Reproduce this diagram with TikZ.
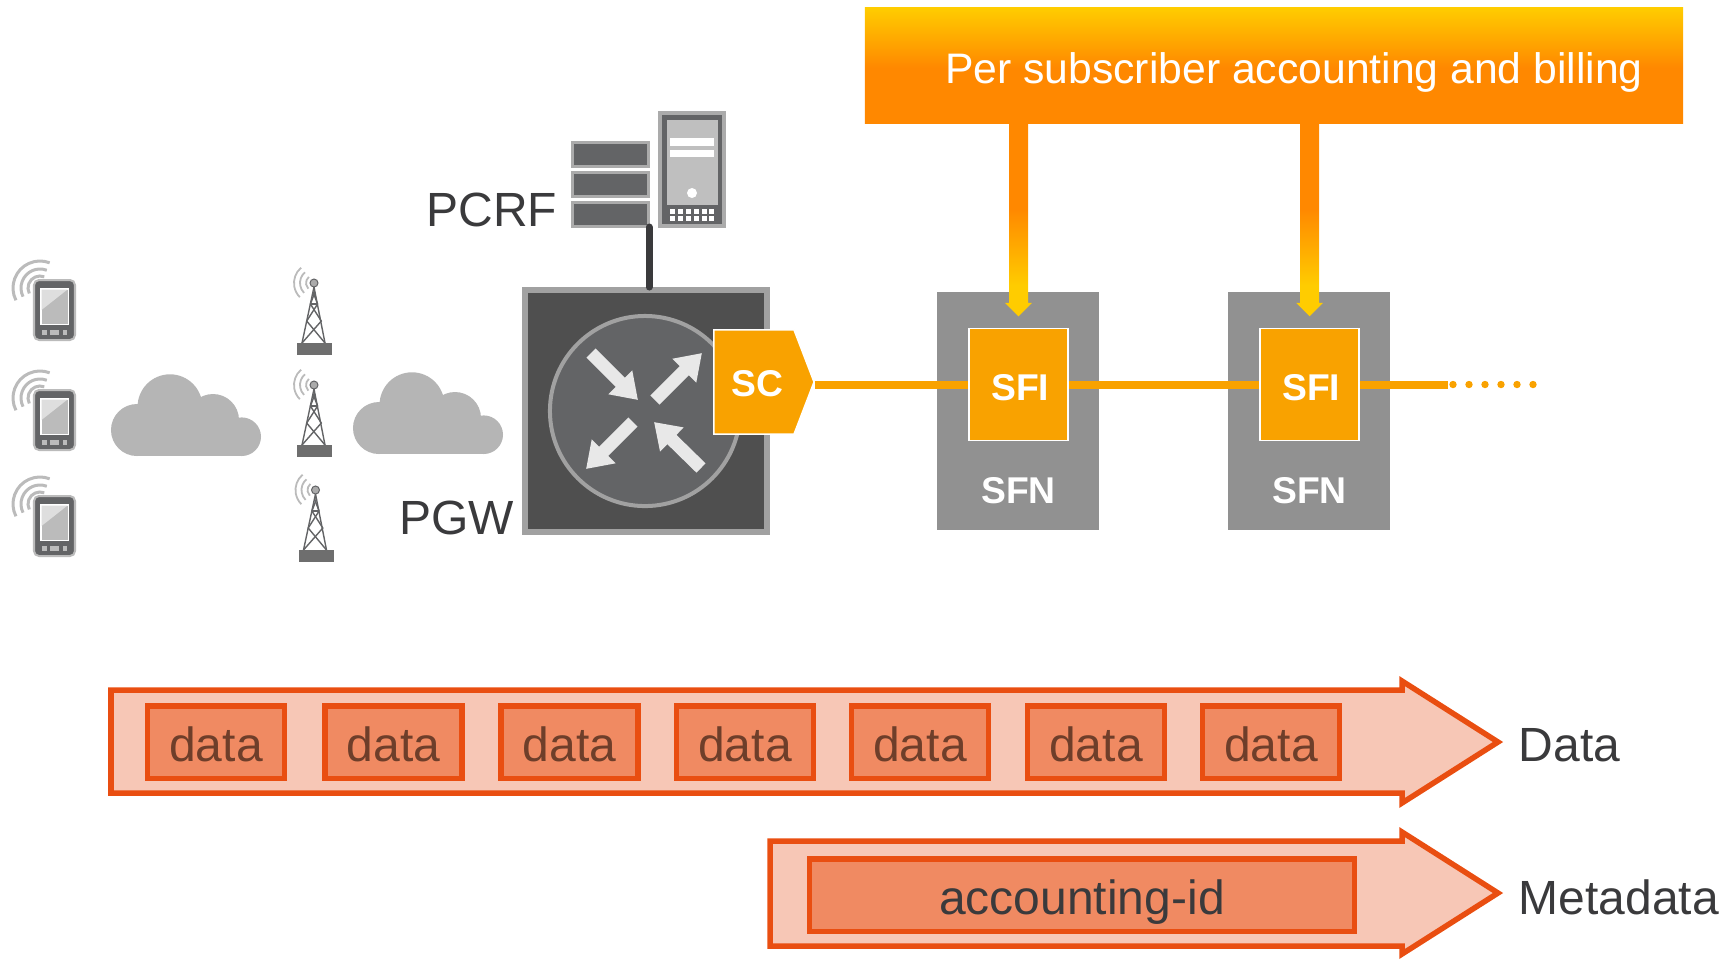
\documentclass[tikz,border=0pt]{standalone}
\usepackage{fontspec}
\setmainfont{Liberation Sans}
\usetikzlibrary{arrows.meta, calc, shapes.symbols}

\definecolor{feedorange}{HTML}{FF8800}
\definecolor{feedyellow}{HTML}{FFCC00}
\definecolor{sforange}{HTML}{F9A200}
\definecolor{sfngray}{HTML}{919191}
\definecolor{edgered}{HTML}{E94E11}
\definecolor{flowpink}{HTML}{F7C7B6}
\definecolor{boxsalmon}{HTML}{F08A62}
\definecolor{darktext}{HTML}{3A3A3C}
\definecolor{datatext}{HTML}{6E3E2A}
\definecolor{iconlight}{HTML}{BBBBBB}
\definecolor{icondark}{HTML}{636466}

\pgfdeclareverticalshading{barfade}{100bp}{color(0bp)=(feedorange); color(49bp)=(feedorange); color(75bp)=(feedyellow); color(100bp)=(feedyellow)}
\pgfdeclareverticalshading{feedfade}{100bp}{color(0bp)=(feedyellow); color(33bp)=(feedyellow); color(53bp)=(feedorange); color(100bp)=(feedorange)}

\newcommand{\bigfont}{\fontsize{13.65}{16}\selectfont}
\newcommand{\boldfont}{\fontsize{10.6}{12}\selectfont\bfseries}

\tikzset{
    lbl/.style={text=darktext, font=\bigfont, inner sep=0pt, text depth=0pt},
    rackbox/.style={draw=black!33, fill=icondark, line width=.033cm, minimum width=.757cm, minimum height=.237cm, inner sep=0pt},
    sfnbox/.style={fill=sfngray, minimum height=2.38cm, inner sep=0pt},
    sfibox/.style={fill=sforange, draw=white, line width=.015cm, minimum width=.99cm, minimum height=1.12cm, inner sep=0pt, text=white, font=\boldfont, text height=8.9pt, text depth=0pt},
    sfntext/.style={text=white, font=\boldfont, inner sep=0pt, text depth=0pt},
    chainline/.style={draw=sforange, line width=.08cm},
    feedshade/.style={shade, shading=feedfade},
    flowarrow/.style={draw=edgered, fill=flowpink, line width=.055cm},
    databox/.style={draw=edgered, fill=boxsalmon, line width=.055cm, minimum height=.725cm, inner sep=0pt, text height=11.1pt, text depth=0pt, font=\bigfont},
    gwarrow/.style={draw=black!9, line width=.13cm, -{Triangle[length=.25cm,width=.32cm]}},
    pics/phone/.style={code={
        \foreach \r in {.27,.19,.12}
            \draw[iconlight, line width=.03cm] (6,8) ++(69:\r cm) arc[start angle=69, end angle=207, radius=\r cm];
        \draw[fill=icondark, draw=iconlight, line width=.02cm, rounded corners=.05cm] (0,0) rectangle (41,60);
        \fill[white] (6,8) rectangle (35,45);
        \fill[iconlight] (7.5,9.5) rectangle (33.5,43.5);
        \fill[black!13] (7.5,9.5) -- (33.5,9.5) -- (7.5,30) -- cycle;
        \fill[iconlight] (8,50) rectangle (13,55);
        \fill[iconlight] (16,50) rectangle (25,55);
        \fill[iconlight] (29,50) rectangle (33,55);
    }},
    pics/tower/.style={code={
        \foreach \r in {.08,.14,.20}
            \draw[iconlight, line width=.018cm] (0,0) ++(130:\r cm) arc[start angle=130, end angle=225, radius=\r cm];
        \draw[icondark, line width=.014cm] (0,4) -- (-12,60) (0,4) -- (11,60);
        \draw[icondark, line width=.014cm] (-1,9) -- (3.6,21) -- (-7.3,38) -- (11,60);
        \draw[icondark, line width=.014cm] (1,9) -- (-3.6,21) -- (7.3,38) -- (-12,60);
        \draw[icondark, line width=.014cm] (-3.6,21) -- (3.6,21);
        \draw[fill=black!33, draw=icondark, line width=.01cm] (0,0) circle[radius=.04cm];
        \fill[black!57] (-17,60) rectangle (18,72);
    }},
    pics/cloudicon/.style={code={
        \fill[black!29] (26,-26) circle[radius=.26cm];
        \fill[black!29] (59,-49.3) circle[radius=.324cm];
        \fill[black!29] (102,-36) circle[radius=.26cm];
        \fill[black!29] (130.7,-19.3) circle[radius=.193cm];
        \fill[black!29] (26,-30) rectangle (131,0);
    }}
}

\begin{document}
\begin{tikzpicture}[x=.01cm, y=-.01cm]
    \useasboundingbox (0,0) rectangle (1735,959);

    % phones, towers, clouds
    \pic at (34,280) {phone};
    \pic at (34,390) {phone};
    \pic at (34,496) {phone};
    \pic at (314,283) {tower};
    \pic at (314,385) {tower};
    \pic at (315.5,490) {tower};
    \pic at (111,456) {cloudicon};
    \pic at (353,454) {cloudicon};

    % PCRF
    \node[rackbox] (racka) at (610.5,154.5) {};
    \node[rackbox] (rackb) at (610.5,184.5) {};
    \node[rackbox] (rackc) at (610.5,214.5) {};
    \fill[black!33] (658,111) rectangle (726,228);
    \fill[icondark] (662,115) rectangle (722,224);
    \fill[black!25] (667,120) rectangle (718,205);
    \fill[white] (670,138) rectangle (714,146);
    \fill[white] (670,150) rectangle (714,157);
    \fill[white] (692,193) circle[radius=.05cm];
    \foreach \x in {670,678,686,694,702,709}
        \foreach \y in {209,216}
            \fill[white] (\x,\y) rectangle ++(5,5);
    \node[lbl, anchor=east] (pcrf) at (558,209.5) {PCRF};

    % PGW
    \node[draw=black!37, fill=black!69, line width=.065cm, minimum size=2.42cm, inner sep=0pt] (pgw) at (646,411) {};
    \node[circle, draw=black!37, fill=icondark, line width=.04cm, minimum size=1.9cm, inner sep=0pt] (router) at (645,411) {};
    \draw[gwarrow] (591,353) -- (638,400);
    \draw[gwarrow] (655,400) -- (702,353);
    \draw[gwarrow] (633,422) -- (586,469);
    \draw[gwarrow] (701,468) -- (654,422);
    \node[lbl, anchor=east] (pgwlbl) at (515,518) {PGW};
    \coordinate (pcrfport) at (649,227);
    \coordinate (pgwport) at (649,287);
    \draw[darktext, line width=.07cm, line cap=round] (pcrfport) -- (pgwport);

    % service chain
    \node[sfnbox, minimum width=1.62cm] (sfna) at (1018,411) {};
    \node[sfnbox, minimum width=1.62cm] (sfnb) at (1309,411) {};
    \node[signal, signal to=east, signal pointer angle=138, fill=sforange, draw=white, line width=.015cm, minimum width=1cm, minimum height=1.04cm, inner sep=0pt, text=white, font=\boldfont, text height=8.2pt, text depth=0pt] (sc) at (754,382) {\kern2pt SC};
    \node[sfibox] (sfia) at (1018.5,384.5) {\kern1pt SFI};
    \node[sfibox] (sfib) at (1309.5,384.5) {\kern1pt SFI};
    \node[sfntext] (sfnlbla) at (1018.5,490) {SFN};
    \node[sfntext] (sfnlblb) at (1309.5,490) {SFN};
    \coordinate (chainend) at (1448,384.5);
    \draw[chainline] (sc.east |- sfia.west) -- (sfia.west);
    \draw[chainline] (sfia.east) -- (sfib.west);
    \draw[chainline] (sfib.east) -- (chainend);
    \foreach \x in {1453,1469,1485,1501,1517,1533}
        \fill[sforange] (\x,384.5) circle[radius=.037cm];

    % accounting bar and its feeds
    \node[shade, shading=barfade, minimum width=8.18cm, minimum height=1.15cm, inner sep=0pt] (bar) at (1274,65.5) {};
    \node[text=white, font=\fontsize{12.14}{15}\selectfont, inner sep=0pt, text depth=0pt] (bartext) at (1294,68) {Per subscriber accounting and billing};
    \path[feedshade] (bar.south -| sfia.north) ++(-9.5,0) -- ++(19,0) -- ++(0,179) -- ++(4,0) -- ++(-13.5,13.5) -- ++(-13.5,-13.5) -- ++(4,0) -- cycle;
    \path[feedshade] (bar.south -| sfib.north) ++(-9.5,0) -- ++(19,0) -- ++(0,179) -- ++(4,0) -- ++(-13.5,13.5) -- ++(-13.5,-13.5) -- ++(4,0) -- cycle;

    % data flow
    \draw[flowarrow] (111,690) -- (1402,690) -- (1402,681) -- (1498,742) -- (1402,803) -- (1402,793) -- (111,793) -- cycle;
    \node[databox, minimum width=1.365cm, text=datatext] (dataa) at (216,742) {data};
    \node[databox, minimum width=1.365cm, text=datatext] (datab) at (393.5,742) {data};
    \node[databox, minimum width=1.365cm, text=datatext] (datac) at (569.5,742) {data};
    \node[databox, minimum width=1.365cm, text=datatext] (datad) at (745,742) {data};
    \node[databox, minimum width=1.365cm, text=datatext] (datae) at (920,742) {data};
    \node[databox, minimum width=1.365cm, text=datatext] (dataf) at (1096,742) {data};
    \node[databox, minimum width=1.365cm, text=datatext] (datag) at (1271,742) {data};
    \node[lbl, anchor=west] (datalbl) at (1518,745) {Data};

    % metadata flow
    \draw[flowarrow] (770,841) -- (1402,841) -- (1402,832) -- (1498,893) -- (1402,954) -- (1402,946) -- (770,946) -- cycle;
    \node[databox, minimum width=5.445cm, text=darktext] (acctid) at (1082,895) {accounting-id};
    \node[lbl, anchor=west] (metalbl) at (1518,897) {Metadata};
\end{tikzpicture}
\end{document}
